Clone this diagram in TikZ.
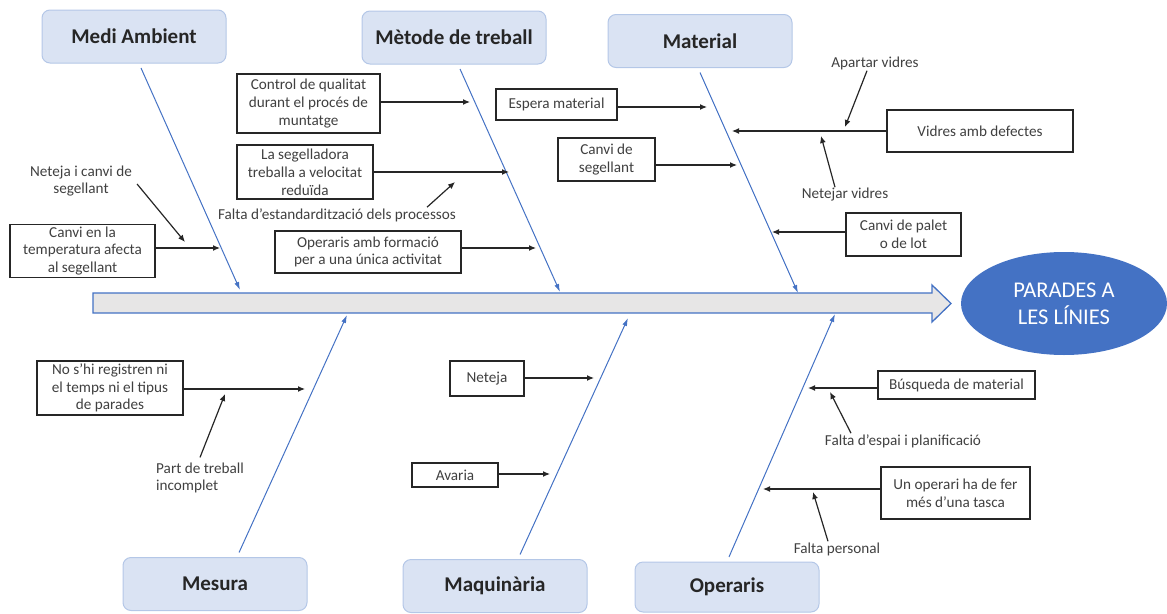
\documentclass[tikz,border=0pt]{standalone}
\usepackage{fontspec}
\setmainfont{Carlito}
\usepackage{tikz}
\usetikzlibrary{shapes,positioning,calc}
\usetikzlibrary{shapes.geometric, arrows}
\usetikzlibrary{arrows.meta}
\definecolor{blauos}{HTML}{4472C4}
\definecolor{blauclar}{HTML}{DAE3F3}
\definecolor{vorablau}{HTML}{B4C7E7}
\definecolor{grisfons}{HTML}{E7E6E6}
\newcommand{\lletrapetita}{\fontsize{15.2}{17.8}\selectfont}
\newcommand{\lletragran}{\fontsize{21}{25}\selectfont\bfseries}
\tikzstyle{categoria} = [rectangle, rounded corners=8pt, minimum width=184pt, minimum height=53pt, text centered, draw=vorablau, line width=1pt, fill=blauclar, text=black!85, font=\lletragran]
\tikzstyle{causa} = [rectangle, align=center, draw=black!85, line width=1.3pt, fill=white, text=black!75, inner sep=2pt, font=\lletrapetita]
\tikzstyle{nota} = [align=center, text=black!75, inner sep=1pt, font=\lletrapetita]
\tikzstyle{fletxa} = [line width=1.2pt, black!85, -{Latex[length=7pt,width=6pt]}]
\tikzstyle{espina} = [line width=1pt, blauos, -{Latex[length=8pt,width=5pt]}, shorten <=5pt]
\begin{document}
\begin{tikzpicture}[x=1pt,y=-1pt]
\useasboundingbox (0,0) rectangle (1167,613);
\fill[grisfons, draw=blauos, line width=1.3pt] (93,293) -- (932,293) -- (932,285) -- (951,303.5) -- (932,322) -- (932,313) -- (93,313) -- cycle;
\node (efecte) at (1064,303.5) [ellipse, minimum width=206pt, minimum height=103pt, fill=blauos, text=white, align=center, font=\fontsize{22.5}{27}\selectfont] {PARADES A\\LES LÍNIES};

\node (medi) at (134,36.5) [categoria] {Medi Ambient};
\node (metode) at (454,37.5) [categoria] {Mètode de treball};
\node (material) at (700,41) [categoria] {Material};
\node (mesura) at (215,584) [categoria] {Mesura};
\node (maquinaria) at (495,586) [categoria] {Maquinària};
\node (operaris) at (727,587) [categoria, minimum height=50pt] {Operaris};

\coordinate (b-medi) at (240,290);
\coordinate (b-metode) at (560,292);
\coordinate (b-material) at (798,293);
\coordinate (b-mesura) at (347,315);
\coordinate (b-maquinaria) at (628,318);
\coordinate (b-operaris) at (835,314);
\draw[espina] ([xshift=5pt]medi.south) -- (b-medi);
\draw[espina] ([xshift=4pt]metode.south) -- (b-metode);
\draw[espina] ([xshift=-2pt]material.south) -- (b-material);
\draw[espina] ([xshift=22pt]mesura.north) -- (b-mesura);
\draw[espina] ([xshift=23pt]maquinaria.north) -- (b-maquinaria);
\draw[espina] (operaris.north) -- (b-operaris);

\node (c-temp) at (82.5,251) [causa, minimum width=145pt, minimum height=52pt] {Canvi en la\\temperatura afecta\\al segellant};
\node (c-qual) at (308.5,103.5) [causa, minimum width=143pt, minimum height=59pt] {Control de qualitat\\durant el procés de\\muntatge};
\node (c-seg) at (305,172) [causa, minimum width=136pt, minimum height=54pt] {La segelladora\\treballa a velocitat\\reduïda};
\node (c-form) at (368,252) [causa, minimum width=186pt, minimum height=42pt] {Operaris amb formació\\per a una única activitat};
\node (c-esp) at (556.5,104.5) [causa, minimum width=121pt, minimum height=31pt] {Espera material};
\node (c-canvi) at (606.5,159.5) [causa, minimum width=97pt, minimum height=43pt] {Canvi de\\segellant};
\node (c-vidres) at (980,131) [causa, minimum width=186pt, minimum height=42pt] {Vidres amb defectes};
\node (c-palet) at (903.5,234.5) [causa, minimum width=115pt, minimum height=43pt] {Canvi de palet\\o de lot};
\node (c-reg) at (110,388) [causa, minimum width=146pt, minimum height=54pt] {No s'hi registren ni\\el temps ni el tipus\\de parades};
\node (c-net) at (487,378.5) [causa, minimum width=74pt, minimum height=35pt] {Neteja};
\node (c-avaria) at (455,475) [causa, minimum width=86pt, minimum height=24pt] {Avaria};
\node (c-busq) at (956.5,385) [causa, minimum width=157pt, minimum height=28pt] {Búsqueda de material};
\node (c-operari) at (955.5,493) [causa, minimum width=149pt, minimum height=52pt] {Un operari ha de fer\\més d'una tasca};

\node (n-netcanvi) at (81,181) [nota] {Neteja i canvi de\\segellant};
\node (n-falta) at (337,215) [nota] {Falta d'estandardització dels processos};
\node (n-apartar) at (875,63) [nota] {Apartar vidres};
\node (n-netejar) at (845,195) [nota] {Netejar vidres};
\node (n-part) at (155,478) [nota, anchor=west, align=left] {Part de treball\\incomplet};
\node (n-espai) at (903,441) [nota] {Falta d'espai i planificació};
\node (n-personal) at (837,549) [nota] {Falta personal};

\coordinate (p-temp) at (220,248);
\coordinate (p-qual) at (470,102);
\coordinate (p-seg) at (509,172);
\coordinate (p-form) at (536,248);
\coordinate (p-esp) at (707,107);
\coordinate (p-canvi) at (737,165);
\coordinate (p-vidres) at (732,131);
\coordinate (p-palet) at (772,232);
\coordinate (p-reg) at (305,389);
\coordinate (p-net) at (594,378);
\coordinate (p-avaria) at (550,474);
\coordinate (p-busq) at (808,388);
\coordinate (p-operari) at (763,489);
\draw[fletxa] (c-temp.east |- p-temp) -- (p-temp);
\draw[fletxa] (c-qual.east |- p-qual) -- (p-qual);
\draw[fletxa] (c-seg.east |- p-seg) -- (p-seg);
\draw[fletxa] (c-form.east |- p-form) -- (p-form);
\draw[fletxa] (c-esp.east |- p-esp) -- (p-esp);
\draw[fletxa] (c-canvi.east |- p-canvi) -- (p-canvi);
\draw[fletxa] (c-vidres.west |- p-vidres) -- (p-vidres);
\draw[fletxa] (c-palet.west |- p-palet) -- (p-palet);
\draw[fletxa] (c-reg.east |- p-reg) -- (p-reg);
\draw[fletxa] (c-net.east |- p-net) -- (p-net);
\draw[fletxa] (c-avaria.east |- p-avaria) -- (p-avaria);
\draw[fletxa] (c-busq.west |- p-busq) -- (p-busq);
\draw[fletxa] (c-operari.west |- p-operari) -- (p-operari);

\coordinate (q-netcanvi) at (185,242);
\coordinate (q-falta) at (455,182);
\coordinate (q-apartar) at (845,127);
\coordinate (q-netejar) at (821,136);
\coordinate (q-part) at (225,394);
\coordinate (q-espai) at (830,392);
\coordinate (q-personal) at (813,492);
\draw[fletxa] ([xshift=4pt,yshift=-3pt]n-netcanvi.east) -- (q-netcanvi);
\draw[fletxa] ([xshift=90pt]n-falta.north) -- (q-falta);
\draw[fletxa] ([xshift=-8pt]n-apartar.south) -- (q-apartar);
\draw[fletxa] ([xshift=-10pt]n-netejar.north) -- (q-netejar);
\draw[fletxa] ([yshift=4pt]n-part.north) -- (q-part);
\draw[fletxa] ([xshift=-52pt]n-espai.north) -- (q-espai);
\draw[fletxa] ([xshift=-9pt]n-personal.north) -- (q-personal);
\end{tikzpicture}
\end{document}
